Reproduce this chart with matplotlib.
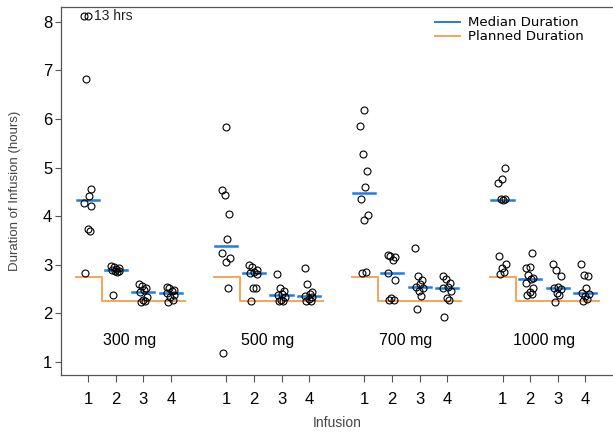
import matplotlib
matplotlib.use("Agg")
import matplotlib.pyplot as plt
import numpy as np

plt.rcParams['font.family'] = ['Liberation Sans', 'DejaVu Sans']

DOSES = ['300 mg', '500 mg', '700 mg', '1000 mg']
INFUSIONS = [1, 2, 3, 4]
PLANNED = [2.75, 2.25, 2.25, 2.25]
Y_CAP = 8.12  # values above this are drawn at the cap and labelled

# infusion durations (hours), one list per infusion
DUR_300 = [
    [2.84, 3.70, 3.74, 4.20, 4.27, 4.41, 4.56, 6.83, 13.0, 13.0],
    [2.38, 2.85, 2.87, 2.88, 2.89, 2.91, 2.93, 2.95, 2.97],
    [2.24, 2.25, 2.28, 2.33, 2.43, 2.47, 2.52, 2.56, 2.61],
    [2.24, 2.28, 2.33, 2.38, 2.42, 2.45, 2.48, 2.52, 2.55],
]
DUR_500 = [
    [1.18, 2.52, 3.05, 3.14, 3.25, 3.53, 4.05, 4.44, 4.53, 5.84],
    [2.26, 2.52, 2.52, 2.80, 2.83, 2.86, 2.90, 2.95, 3.00],
    [2.25, 2.26, 2.28, 2.33, 2.38, 2.40, 2.45, 2.52, 2.81],
    [2.25, 2.26, 2.30, 2.34, 2.36, 2.40, 2.43, 2.60, 2.93],
]
DUR_700 = [
    [2.84, 2.86, 3.93, 4.03, 4.36, 4.61, 4.94, 5.27, 5.85, 6.18],
    [2.27, 2.28, 2.32, 2.68, 2.84, 3.10, 3.15, 3.18, 3.21],
    [2.09, 2.35, 2.45, 2.52, 2.55, 2.60, 2.69, 2.76, 3.34],
    [1.92, 2.27, 2.31, 2.45, 2.52, 2.55, 2.62, 2.70, 2.77],
]
DUR_1000 = [
    [2.80, 2.85, 2.93, 3.02, 3.19, 4.34, 4.35, 4.36, 4.68, 4.77, 4.99],
    [2.37, 2.40, 2.44, 2.52, 2.62, 2.71, 2.72, 2.79, 2.93, 2.96, 3.25],
    [2.24, 2.37, 2.42, 2.50, 2.52, 2.54, 2.77, 2.90, 3.02],
    [2.26, 2.30, 2.35, 2.40, 2.42, 2.52, 2.77, 2.78, 3.02],
]
ALL_DUR = [DUR_300, DUR_500, DUR_700, DUR_1000]

# fixed horizontal spread so overlapping points stay visible
JITTER = [-0.10, 0.06, -0.02, 0.12, -0.14, 0.02, 0.10, -0.06, -0.16, -0.02, 0.08]

BLUE = '#1f7fdc'
ORANGE = '#f5a55a'

fig = plt.figure(figsize=(6.13, 4.33), dpi=100)
ax = fig.add_axes([60.5 / 613, 1 - 375 / 433, 1 - 60.5 / 613, (375 - 7.3) / 433])

tick_pos = []
tick_lab = []
for g, (dose, durs) in enumerate(zip(DOSES, ALL_DUR)):
    base = g * 5
    xs = [base + i for i in INFUSIONS]

    # planned duration as a step line
    ax.plot([base + 0.55, base + 1.5, base + 1.5, base + 4.5],
            [PLANNED[0], PLANNED[0], PLANNED[1], PLANNED[3]],
            color=ORANGE, lw=1.4, zorder=1)

    for x, vals in zip(xs, durs):
        vals = np.array(vals)
        off = np.array([JITTER[k % len(JITTER)] for k in range(len(vals))])
        shown = np.minimum(vals, Y_CAP)
        ax.plot(x + off, shown, 'o', ms=5, mfc='none', mec='black', mew=0.8, zorder=3)
        ax.plot([x - 0.4, x + 0.4], [np.median(vals)] * 2, color=BLUE, lw=1.8, zorder=2)
        if (vals > Y_CAP).any():
            ax.text(x + 0.2, Y_CAP, '%d hrs' % vals.max(), fontsize=10,
                    va='center', ha='left', color='#222222')

    ax.text(base + 2.5, 1.45, dose, fontsize=11.5, ha='center', va='center')
    tick_pos += xs
    tick_lab += [str(i) for i in INFUSIONS]

ax.set_xlim(0, 20)
ax.set_ylim(0.73, 8.3)
ax.set_xticks(tick_pos)
ax.set_xticklabels(tick_lab)
ax.set_yticks(range(1, 9))
ax.tick_params(axis='x', length=5, width=0.8, color='#555555', labelsize=12, pad=7)
ax.tick_params(axis='y', length=4, width=0.8, color='#555555', labelsize=12, pad=2)
ax.spines['right'].set_visible(False)
for s in ['left', 'bottom', 'top']:
    ax.spines[s].set_color('#555555')
    ax.spines[s].set_linewidth(0.9)

ax.set_xlabel('Infusion', fontsize=10, color='#444444', labelpad=7)
ax.set_ylabel('Duration of Infusion (hours)', fontsize=9.5, color='#444444', labelpad=16)

ax.plot([], [], color=BLUE, lw=1.4, label='Median Duration')
ax.plot([], [], color=ORANGE, lw=1.4, label='Planned Duration')
ax.legend(loc='upper left', bbox_to_anchor=(0.678, 0.975), frameon=False,
          borderpad=0, borderaxespad=0, handlelength=1.9, handletextpad=0.6,
          labelspacing=0.05, prop={'family': 'DejaVu Sans', 'size': 9.5})

fig.savefig('out.png', dpi=100)
